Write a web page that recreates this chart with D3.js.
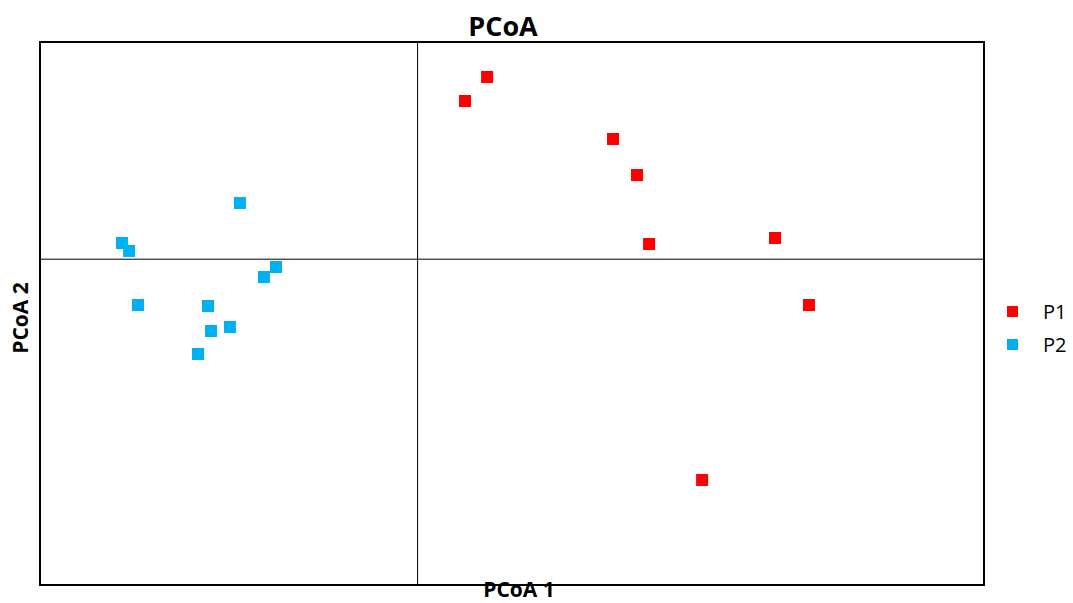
<!DOCTYPE html>
<html><head><meta charset="utf-8">
<script src="https://cdn.jsdelivr.net/npm/d3@7"></script>
<style>body{margin:0;background:#fff}</style>
</head><body>
<svg id="c" width="1073" height="603"></svg>
<script>
const groups = ["P1", "P2"];
const colors = ["#ff0000", "#00b0f0"];
const p1X = [0.0368, 0.0251, 0.1035, 0.1162, 0.1226, 0.1893, 0.2073, 0.1507];
const p1Y = [0.1678, 0.1457, 0.1107, 0.0775, 0.0140, 0.0195, -0.0422, -0.2033];
const p2X = [-0.0941, -0.1566, -0.1528, -0.0750, -0.0814, -0.1481, -0.1110, -0.1094, -0.0994, -0.1163];
const p2Y = [0.0517, 0.0149, 0.0076, -0.0072, -0.0164, -0.0422, -0.0431, -0.0661, -0.0624, -0.0873];
const xDomain = [-0.2, 0.3];
const yDomain = [-0.3, 0.2];

const svg = d3.select("#c");
const L = 40, R = 984, T = 42, B = 585;
const x = d3.scaleLinear().domain(xDomain).range([L, R]);
const y = d3.scaleLinear().domain(yDomain).range([B, T]);
const font = "'Open Sans', 'Liberation Sans', sans-serif";

// crosshair
svg.append("line").attr("x1", x(0)).attr("x2", x(0)).attr("y1", T).attr("y2", B)
  .attr("stroke", "#000").attr("stroke-width", 1);
svg.append("line").attr("x1", L).attr("x2", R).attr("y1", y(0)).attr("y2", y(0))
  .attr("stroke", "#000").attr("stroke-width", 1);

const series = [
  {name: groups[0], color: colors[0], pts: p1X.map((v, i) => [v, p1Y[i]])},
  {name: groups[1], color: colors[1], pts: p2X.map((v, i) => [v, p2Y[i]])}
];
const S = 12;
series.forEach(s => {
  svg.append("g").selectAll("rect").data(s.pts).join("rect")
    .attr("x", d => x(d[0]) - S / 2).attr("y", d => y(d[1]) - S / 2)
    .attr("width", S).attr("height", S).attr("fill", s.color);
});

// frame
svg.append("rect").attr("x", L).attr("y", T).attr("width", R - L).attr("height", B - T)
  .attr("fill", "none").attr("stroke", "#000").attr("stroke-width", 2);

// title & axis labels
svg.append("text").attr("x", 503).attr("y", 36).attr("text-anchor", "middle")
  .attr("font-family", font).attr("font-weight", "bold").attr("font-size", 27).text("PCoA");
svg.append("text").attr("x", 519).attr("y", 597).attr("text-anchor", "middle")
  .attr("font-family", font).attr("font-weight", "bold").attr("font-size", 21).text("PCoA 1");
svg.append("text").attr("transform", "translate(28,318) rotate(-90)").attr("text-anchor", "middle")
  .attr("font-family", font).attr("font-weight", "bold").attr("font-size", 21).text("PCoA 2");

// legend
const lg = svg.append("g");
series.forEach((s, i) => {
  const cy = 312 + i * 33;
  lg.append("rect").attr("x", 1007).attr("y", cy - 6).attr("width", 11).attr("height", 11).attr("fill", s.color);
  lg.append("text").attr("x", 1043).attr("y", cy + 7).attr("font-family", font)
    .attr("font-size", 20).text(s.name);
});
</script>
</body></html>
